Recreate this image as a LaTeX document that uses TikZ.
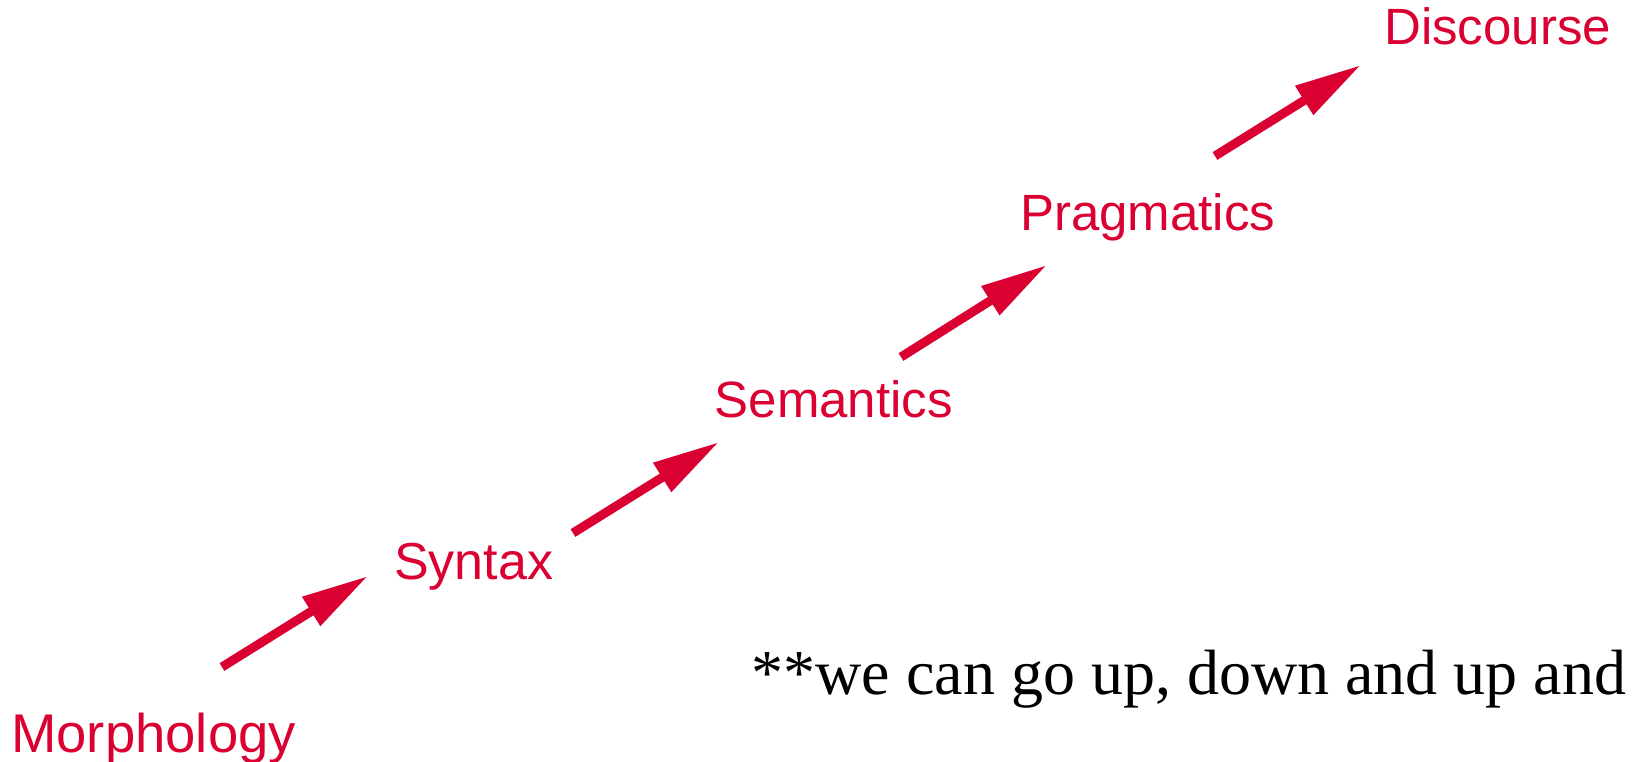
\documentclass[tikz,border=0pt]{standalone}
\usepackage{fontspec}
\setmainfont{Liberation Serif}
\newfontfamily\labelfont{Liberation Sans}
\usetikzlibrary{arrows.meta}
\definecolor{crimsonred}{RGB}{218,0,50}
\tikzset{
  levellabel/.style={anchor=base west, inner sep=0pt, text=crimsonred,
    font=\labelfont\fontsize{51}{60}\selectfont},
  notelabel/.style={anchor=base west, inner sep=0pt, text=black,
    font=\fontsize{64}{72}\selectfont},
  uparrow/.style={draw=crimsonred, line width=9pt, line cap=butt,
    -{Triangle[length=67pt,width=32pt]}, fill=crimsonred}
}
\begin{document}
\begin{tikzpicture}[x=1pt,y=-1pt]
\useasboundingbox (0,0) rectangle (1633,761);
\node[levellabel, font=\labelfont\fontsize{54.5}{60}\selectfont] (morph) at (11,752) {Morphology};
\node[levellabel, font=\labelfont\fontsize{52}{60}\selectfont] (syn) at (394,579) {Syntax};
\node[levellabel] (sem) at (714.5,417) {Semantics};
\node[levellabel] (prag) at (1020,230) {Pragmatics};
\node[levellabel] (disc) at (1384,44) {Discourse};
\node[notelabel] (note) at (751.5,694) {**we can go up, down and up and};
\coordinate (a1s) at (222,667); \coordinate (a1e) at (368,576);
\coordinate (a2s) at (573,533); \coordinate (a2e) at (719,442);
\coordinate (a3s) at (901,357); \coordinate (a3e) at (1047,265);
\coordinate (a4s) at (1215,156); \coordinate (a4e) at (1361,65);
\draw[uparrow] (a1s) -- (a1e);
\draw[uparrow] (a2s) -- (a2e);
\draw[uparrow] (a3s) -- (a3e);
\draw[uparrow] (a4s) -- (a4e);
\end{tikzpicture}
\end{document}
